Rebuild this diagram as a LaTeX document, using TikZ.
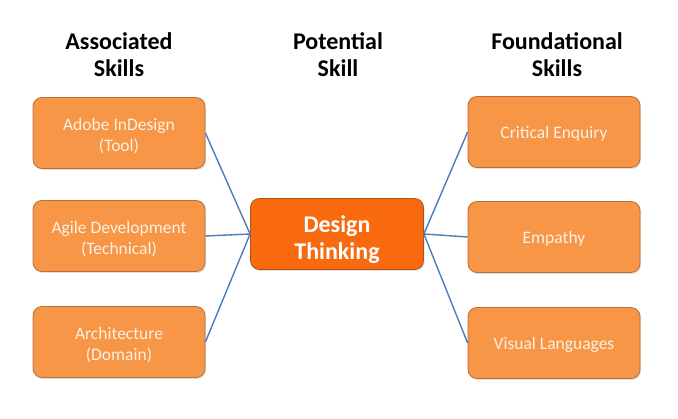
\documentclass[tikz,border=0pt]{standalone}
\usepackage{fontspec}
\setmainfont{Carlito}
\usetikzlibrary{positioning,shadows}

\definecolor{boxfill}{HTML}{F79646}
\definecolor{boxline}{HTML}{B7703A}
\definecolor{corefill}{HTML}{F96A0E}
\definecolor{coreline}{HTML}{B0521A}
\definecolor{linkblue}{HTML}{4A7EBB}
\definecolor{boxtext}{HTML}{FDF0E4}

\tikzset{
  skillbox/.style={draw=boxline,fill=boxfill,rounded corners=9pt,line width=0.8pt,
    minimum width=172pt,minimum height=71pt,align=center,text=boxtext,
    font=\fontsize{17.5}{21}\selectfont,
    execute at begin node={\rule{0pt}{16.5pt}},
    drop shadow={shadow xshift=1pt,shadow yshift=-1.5pt,opacity=0.25}},
  twoline/.style={execute at begin node={},text height=38pt,text depth=0pt},
  corebox/.style={skillbox,fill=corefill,draw=coreline,minimum width=173pt,
    text=white,font=\bfseries\fontsize{24}{26.5}\selectfont,
    execute at begin node={},text height=51pt,text depth=0pt},
  header/.style={align=center,font=\bfseries\fontsize{24}{27}\selectfont},
  link/.style={draw=linkblue,line width=1.4pt},
}

\begin{document}
\begin{tikzpicture}[x=1pt,y=-1pt]
  \useasboundingbox (0,0) rectangle (678,419);
%
  \node [header] (hassoc) at (119,55)  {Associated\\Skills} ;
  \node [header] (hpoten) at (338,55)  {Potential\\Skill} ;
  \node [header] (hfound) at (557,55)  {Foundational\\Skills} ;
%
  \node [corebox] (design) at (337,234) {Design\\Thinking} ;
%
  \node [skillbox,twoline] (adobe) at (119,133) {Adobe InDesign\\(Tool)} ;
  \node [skillbox,twoline] (agile) at (119,236) {Agile Development\\(Technical)} ;
  \node [skillbox,twoline] (arch)  at (119,342) {Architecture\\(Domain)} ;
%
  \node [skillbox] (crit) at (554,132) {Critical Enquiry} ;
  \node [skillbox] (empa) at (554,237) {Empathy} ;
  \node [skillbox] (visu) at (554,343) {Visual Languages} ;
%
  \draw [link] (adobe.east) -- (design.west) ;
  \draw [link] (agile.east) -- (design.west) ;
  \draw [link] (arch.east)  -- (design.west) ;
%
  \draw [link] (design.east) -- (crit.west) ;
  \draw [link] (design.east) -- (empa.west) ;
  \draw [link] (design.east) -- (visu.west) ;
\end{tikzpicture}
\end{document}
